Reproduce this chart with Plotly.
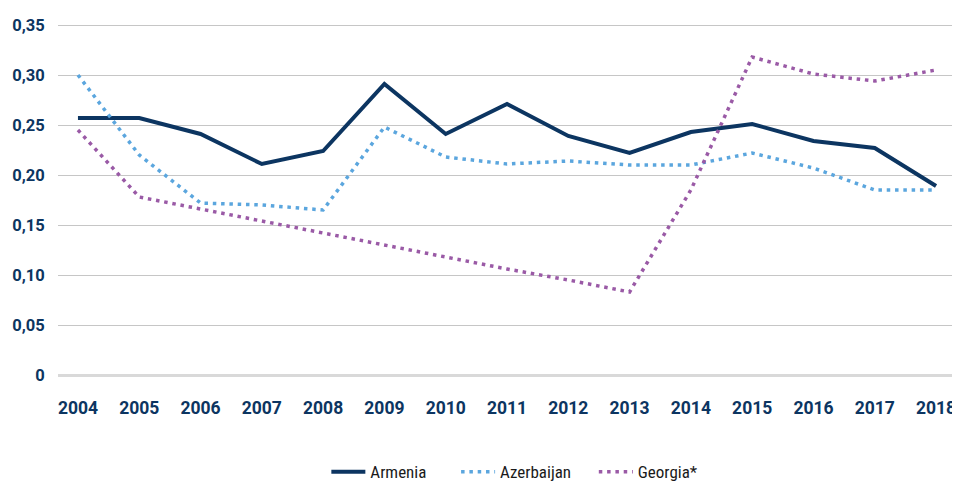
import plotly.graph_objects as go

years = list(range(2004, 2019))
armenia = [0.257, 0.257, 0.241, 0.211, 0.224, 0.291, 0.241, 0.271, 0.239, 0.222, 0.243, 0.251, 0.234, 0.227, 0.189]
azerbaijan = [0.300, 0.220, 0.172, 0.170, 0.165, 0.248, 0.218, 0.211, 0.214, 0.210, 0.210, 0.222, 0.207, 0.185, 0.185]
georgia = [0.245, 0.178, 0.166, 0.154, 0.142, 0.130, 0.118, 0.106, 0.095, 0.083, 0.185, 0.318, 0.301, 0.294, 0.305]

ytick_vals = [0, 0.05, 0.10, 0.15, 0.20, 0.25, 0.30, 0.35]
ytick_text = ["0", "0,05", "0,10", "0,15", "0,20", "0,25", "0,30", "0,35"]

navy = "#0c3561"
fig = go.Figure()
fig.add_trace(go.Scatter(x=years, y=armenia, name="Armenia", mode="lines", legend="legend",
                         line=dict(color=navy, width=4)))
fig.add_trace(go.Scatter(x=years, y=azerbaijan, name="Azerbaijan", mode="lines", legend="legend2",
                         line=dict(color="#5ba6de", width=3.5, dash="3.5px,4.8px")))
fig.add_trace(go.Scatter(x=years, y=georgia, name="Georgia*", mode="lines", legend="legend3",
                         line=dict(color="#9a5aa6", width=3.5, dash="3.5px,4.8px")))

legfont = dict(family="Liberation Sans Narrow, Roboto Condensed, Roboto, sans-serif", size=17, color="#1a1a1a")
def leg(x):
    return dict(orientation="h", x=x, xanchor="left", y=0.027, yref="container", yanchor="middle",
                font=legfont, itemwidth=34, bgcolor="rgba(0,0,0,0)")

# page has 8px body margin: figure is shrunk accordingly
fig.update_layout(
    width=952, height=477,
    margin=dict(l=50, r=4, t=15, b=110),
    plot_bgcolor="white", paper_bgcolor="white",
    font=dict(family="Roboto, Liberation Sans, sans-serif", color=navy),
    showlegend=True,
    legend=leg(0.2995), legend2=leg(0.4443), legend3=leg(0.5980),
)
fig.update_xaxes(range=[2004 - 20/61.43, 2018 + 18/61.43], tickmode="array", tickvals=years,
                 ticktext=[str(y) for y in years], showgrid=False, zeroline=False, showline=False,
                 ticks="outside", ticklen=17, tickcolor="rgba(0,0,0,0)",
                 tickfont=dict(family="Roboto, sans-serif", size=17.5, color=navy, weight="bold"))
fig.update_yaxes(range=[0, 0.352], tickmode="array", tickvals=ytick_vals, ticktext=ytick_text,
                 showgrid=True, gridcolor="#c6c6c6", gridwidth=1.3,
                 zeroline=True, zerolinecolor="#d9d9d9", zerolinewidth=3,
                 showline=False, ticks="outside", ticklen=9, tickcolor="rgba(0,0,0,0)",
                 tickfont=dict(family="Roboto, sans-serif", size=16.5, color=navy, weight="bold"))
fig.write_html("out.html")
